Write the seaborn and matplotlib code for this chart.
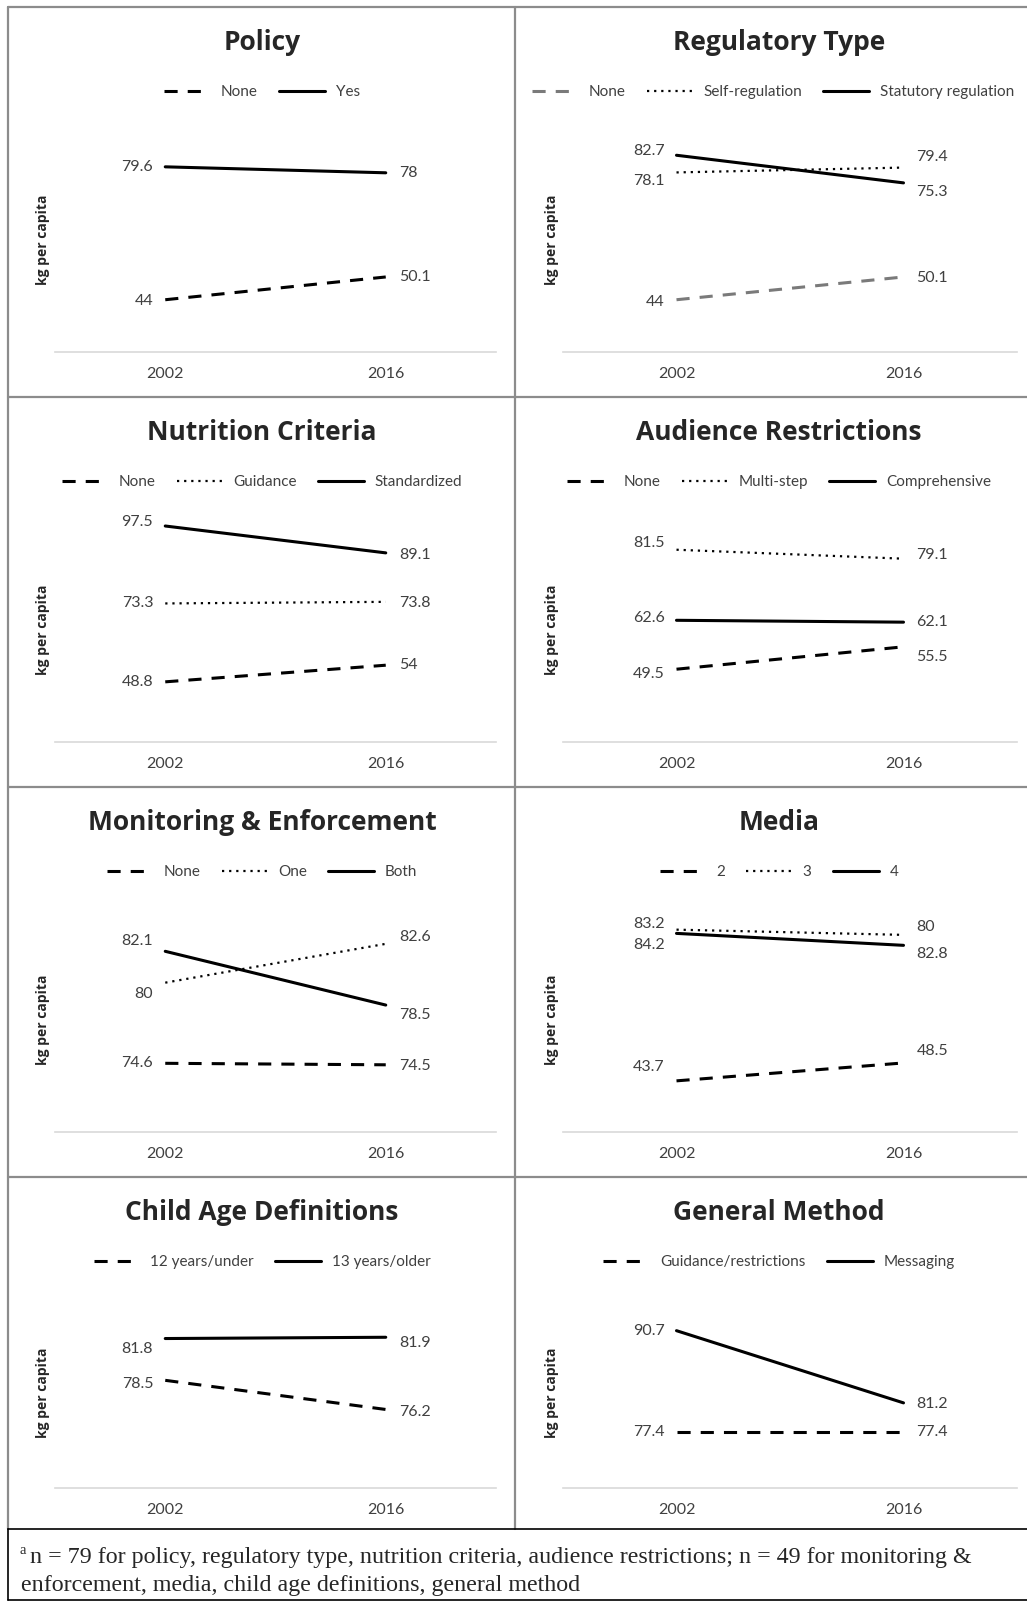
import matplotlib
matplotlib.use("Agg")
import matplotlib.pyplot as plt
from matplotlib.lines import Line2D
import seaborn as sns

# Data (kg per capita)
years = ["2002", "2016"]

policy_series = ["None", "Yes"]
policy_values = [[44, 50.1], [79.6, 78]]

regulatory_series = ["None", "Self-regulation", "Statutory regulation"]
regulatory_values = [[44, 50.1], [78.1, 79.4], [82.7, 75.3]]

nutrition_series = ["None", "Guidance", "Standardized"]
nutrition_values = [[48.8, 54], [73.3, 73.8], [97.5, 89.1]]

audience_series = ["None", "Multi-step", "Comprehensive"]
audience_values = [[49.5, 55.5], [81.5, 79.1], [62.6, 62.1]]

monitoring_series = ["None", "One", "Both"]
monitoring_values = [[74.6, 74.5], [80, 82.6], [82.1, 78.5]]

media_series = ["2", "3", "4"]
media_values = [[43.7, 48.5], [84.2, 82.8], [83.2, 80]]

age_series = ["12 years/under", "13 years/older"]
age_values = [[78.5, 76.2], [81.8, 81.9]]

method_series = ["Guidance/restrictions", "Messaging"]
method_values = [[77.4, 77.4], [90.7, 81.2]]

footnote = ("n = 79 for policy, regulatory type, nutrition criteria, audience restrictions; "
            "n = 49 for monitoring &", "enforcement, media, child age definitions, general method")

# panel setup: title, series, values, line styles, y range, label vertical nudges (px, down)
panels = [
    ("Policy", policy_series, policy_values, ["dash", "solid"], (30, 90),
     [[1, 0], [0, 0]]),
    ("Regulatory Type", regulatory_series, regulatory_values, ["gdash", "dot", "solid"], (30, 90),
     [[2, 1], [9, -11], [-4, 9]]),
    ("Nutrition Criteria", nutrition_series, nutrition_values, ["dash", "dot", "solid"], (30, 100),
     [[0, 0], [0, 1], [-4, 2]]),
    ("Audience Restrictions", audience_series, audience_values, ["dash", "dot", "solid"], (30, 90),
     [[5, 10], [-7, -4], [-2, 0]]),
    ("Monitoring & Enforcement", monitoring_series, monitoring_values, ["dash", "dot", "solid"], (70, 85),
     [[0, 1], [11, -7], [-10, 10]]),
    ("Media", media_series, media_values, ["dash", "dot", "solid"], (30, 90),
     [[-14, -12], [15, 19], [-9, -18]]),
    ("Child Age Definitions", age_series, age_values, ["dash", "solid"], (70, 85),
     [[4, 3], [10, 6]]),
    ("General Method", method_series, method_values, ["dash", "solid"], (70, 95),
     [[0, 0], [0, 1]]),
]

styles = {
    "dash": dict(color="black", linewidth=2.2, linestyle=(0, (4.3, 3.3))),
    "gdash": dict(color="#7a7a7a", linewidth=2.2, linestyle=(0, (4.3, 3.3))),
    "dot": dict(color="black", linewidth=1.6, linestyle=(0, (1, 2.2))),
    "solid": dict(color="black", linewidth=2.2, linestyle="-"),
}

sns.set_style("white")
plt.rcParams["font.family"] = ["Lato", "DejaVu Sans"]

W, H = 1027, 1602
fig = plt.figure(figsize=(W / 100, H / 100), dpi=100)


def fx(x):
    return x / W


def fy(y):
    return 1 - y / H


row_tops = [7, 397, 787, 1177]
plot_bottoms = [352, 742, 1132, 1488]
col_plot = [(55, 496), (563, 1017)]
col_center = [262, 779]
ylabel_x = [43, 552]
label_color = "#404040"
bold_font = ["Open Sans", "DejaVu Sans"]

for i, (title, series, values, kinds, ylim, nudges) in enumerate(panels):
    r, c = divmod(i, 2)
    top = row_tops[r] + 121
    bottom = plot_bottoms[r]
    x0, x1 = col_plot[c]
    ax = fig.add_axes([fx(x0), fy(bottom), (x1 - x0) / W, (bottom - top) / H])

    handles = []
    for s, name in enumerate(series):
        st = styles[kinds[s]]
        sns.lineplot(x=years, y=values[s], ax=ax, legend=False, **st)
        handles.append(Line2D([], [], label=name, **st))
        for j, v in enumerate(values[s]):
            if j == 0:
                ax.annotate(f"{v:g}", (j, v), xytext=(-12, -nudges[s][j]), textcoords="offset pixels",
                            ha="right", va="center", fontsize=11.5, color=label_color)
            else:
                ax.annotate(f"{v:g}", (j, v), xytext=(13, -nudges[s][j]), textcoords="offset pixels",
                            ha="left", va="center", fontsize=11.5, color=label_color)

    ax.set_xlim(-0.5, 1.5)
    ax.set_ylim(*ylim)
    ax.set_yticks([])
    ax.set_xlabel("")
    ax.set_ylabel("")
    for side in ["top", "left", "right"]:
        ax.spines[side].set_visible(False)
    ax.spines["bottom"].set_color("#d9d9d9")
    ax.spines["bottom"].set_linewidth(1.2)
    ax.tick_params(axis="x", length=0, pad=11, labelsize=11.5, labelcolor=label_color)
    ax.patch.set_alpha(0)

    fig.text(fx(col_center[c]), fy(row_tops[r] + 36), title, ha="center", va="center",
             fontsize=19, fontweight="bold", family=bold_font)
    fig.text(fx(ylabel_x[c]), fy((top + bottom) / 2), "kg per capita", rotation=90,
             ha="center", va="center", fontsize=10, fontweight="bold", family=bold_font)
    leg_x = col_center[c] - (6 if title == "Regulatory Type" else 0)
    fig.legend(handles=handles, loc="center", bbox_to_anchor=(fx(leg_x), fy(row_tops[r] + 85)),
               ncol=len(series), frameon=False, fontsize=11, handlelength=3.0, handletextpad=0.7,
               columnspacing=1.4, labelcolor=label_color)

# panel borders
grid_kw = dict(color="#8c8c8c", linewidth=1.6, transform=fig.transFigure)
fig.add_artist(Line2D([fx(8), fx(8)], [fy(7), fy(1529)], **grid_kw))
fig.add_artist(Line2D([fx(515), fx(515)], [fy(7), fy(1529)], **grid_kw))
for y in row_tops:
    fig.add_artist(Line2D([fx(8), fx(1030)], [fy(y), fy(y)], **grid_kw))

# footnote box
box_kw = dict(color="black", linewidth=1.2, transform=fig.transFigure)
fig.add_artist(Line2D([fx(8), fx(1030)], [fy(1529), fy(1529)], **box_kw))
fig.add_artist(Line2D([fx(8), fx(8)], [fy(1529), fy(1600)], **box_kw))
fig.add_artist(Line2D([fx(8), fx(1030)], [fy(1600), fy(1600)], **box_kw))
fig.text(fx(20), fy(1551), "a", ha="left", va="center", fontsize=10.5, family="Liberation Serif")
fig.text(fx(30), fy(1558), footnote[0], ha="left", va="center", fontsize=17.3, family="Liberation Serif")
fig.text(fx(21), fy(1585), footnote[1], ha="left", va="center", fontsize=17.3, family="Liberation Serif")

plt.savefig("out.png", dpi=100)
